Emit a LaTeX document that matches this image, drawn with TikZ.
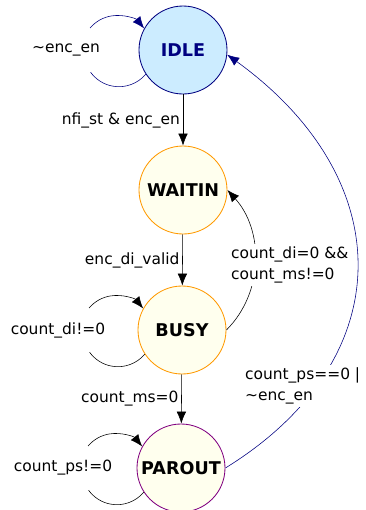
\documentclass[tikz,border=0pt]{standalone}
\usepackage{fontspec}
\setmainfont{DejaVu Sans}
\usetikzlibrary{arrows.meta}
\definecolor{idleFill}{RGB}{204,236,255}
\definecolor{stateFill}{RGB}{255,255,238}
\definecolor{navyLine}{RGB}{0,0,128}
\definecolor{orangeLine}{RGB}{255,153,0}
\definecolor{purpleLine}{RGB}{128,0,128}

\begin{document}
\begin{tikzpicture}[
    >={Latex[length=3mm,width=2.4mm]},
    state/.style={circle, minimum size=2.2cm, inner sep=0pt, fill=stateFill, draw=orangeLine, line width=0.6pt,
        font=\fontsize{12.5}{14}\selectfont\bfseries},
    lbl/.style={font=\fontsize{11}{15}\selectfont, inner sep=2pt}
    ]
    \useasboundingbox (0,0) rectangle (9.15,-12.75);

    % Estados
    \node[state, fill=idleFill, draw=navyLine, text=navyLine] (idle) at (4.575,-1.25) {IDLE};
    \node[state] (waitin) at (4.575,-4.75) {WAITIN};
    \node[state] (busy) at (4.55,-8.25) {BUSY};
    \node[state, draw=purpleLine] (parout) at (4.525,-11.7) {PAROUT};

    % Bucles propios
    \draw[navyLine] (idle.213) arc[start angle=-40, end angle=-144, radius=0.875cm];
    \draw[navyLine, <-] (idle.151) arc[start angle=39, end angle=140, radius=0.875cm];
    \node[lbl] (idleself) at ([xshift=-2.925cm]idle) {\textasciitilde enc\_en};

    \draw (busy.213) arc[start angle=-40, end angle=-144, radius=0.875cm];
    \draw[<-] (busy.151) arc[start angle=39, end angle=140, radius=0.875cm];
    \node[lbl] (busyself) at ([xshift=-3.1cm]busy) {count\_di!=0};

    \draw (parout.213) arc[start angle=-40, end angle=-144, radius=0.875cm];
    \draw[<-] (parout.151) arc[start angle=39, end angle=140, radius=0.875cm];
    \node[lbl] (paroutself) at ([xshift=-2.95cm]parout) {count\_ps!=0};

    % Transiciones hacia abajo
    \draw[->] (idle) -- node[lbl, left] (startlbl) {nfi\_st \& enc\_en} (waitin);
    \draw[->] (waitin) -- node[lbl, left] (validlbl) {enc\_di\_valid} (busy);
    \draw[->] (busy) -- node[lbl, left] (mslbl) {count\_ms=0} (parout);

    % Vuelta de BUSY a WAITIN
    \draw[->] (busy.east) .. controls +(0.95,0.95) and +(0.9,-1.0) .. (waitin.east);
    \node[lbl, fill=white, align=left, anchor=west] (retlbl) at (5.7,-6.62)
        {count\_di=0 \&\&\\count\_ms!=0};

    % Vuelta de PAROUT a IDLE
    \draw[navyLine, ->] (parout.east) .. controls +(4.375,2.7) and +(4.33,-3.135) .. (idle.-6);
    \node[lbl, fill=white, align=left, anchor=west] (pslbl) at (6.05,-9.65)
        {count\_ps==0 \textbar\\\textasciitilde enc\_en};
\end{tikzpicture}
\end{document}
